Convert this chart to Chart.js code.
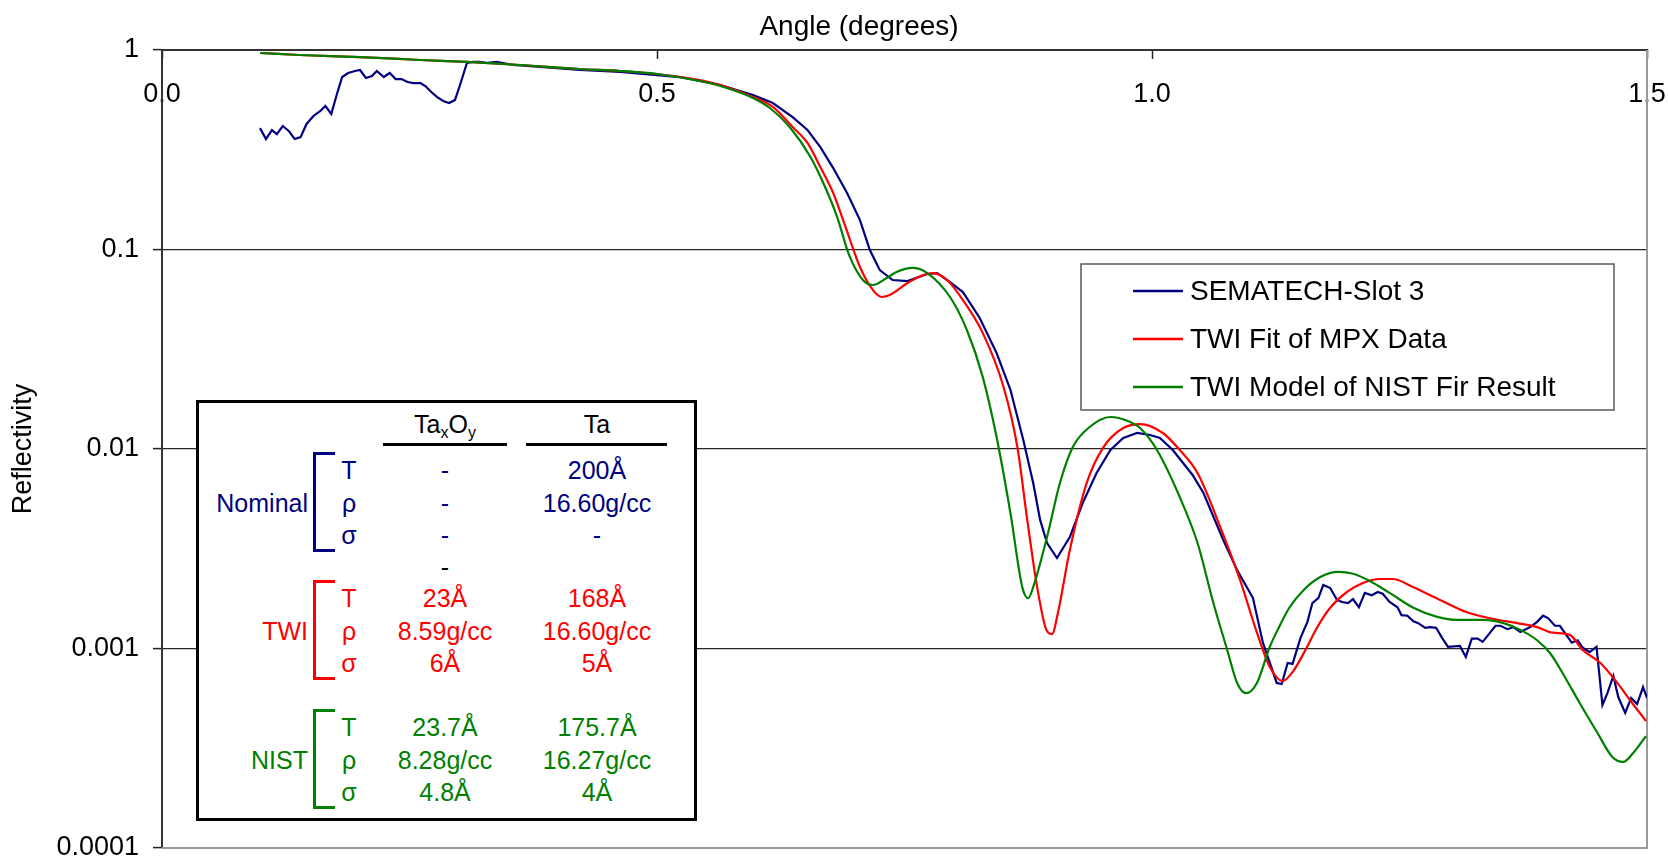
<!DOCTYPE html>
<html>
<head>
<meta charset="utf-8">
<script src="https://cdn.jsdelivr.net/npm/chart.js@4.4.1/dist/chart.umd.min.js"></script>
<style>
  html, body { margin: 0; padding: 0; background: #fff; }
  #wrap { position: relative; width: 1668px; height: 859px; overflow: hidden;
          font-family: 'Liberation Sans', Arial, Helvetica, sans-serif; }
  #chart { position: absolute; left: 0; top: 0; }
  .box { position: absolute; left: 196px; top: 400px; width: 501px; height: 421px;
         box-sizing: border-box; border: 3px solid #000; background: #fff; }
  .t { position: absolute; white-space: nowrap; line-height: 1; font-size: 25px;
       transform: translate(-50%, -50%); }
  .t.r { transform: translate(-100%, -50%); }
  .sb { font-size: 16px; position: relative; top: 5px; }
  .rule { position: absolute; height: 3px; background: #000; }
  .brk { position: absolute; box-sizing: border-box; border: 3px solid; border-right: none; width: 22px; }
</style>
</head>
<body>
<div id="wrap">
  <canvas id="chart" width="1668" height="859"></canvas>
  <div class="box"></div>
</div>
<script>
// Axis ticks and titles
const xTicks = [0, 0.5, 1.0, 1.5];
const xTickLabels = ['0.0', '0.5', '1.0', '1.5'];
const yTicks = [1, 0.1, 0.01, 0.001, 0.0001];
const yTickLabels = ['1', '0.1', '0.01', '0.001', '0.0001'];
const xTitle = 'Angle (degrees)';
const yTitle = 'Reflectivity';

const seriesNames = ['SEMATECH-Slot 3', 'TWI Fit of MPX Data', 'TWI Model of NIST Fir Result'];
const seriesColors = ['#000080', '#ff0000', '#008000'];

// Measured reflectivity (SEMATECH slot 3)
const blueAngle = [0.099,0.105,0.111,0.116,0.122,0.128,0.134,0.140,0.146,0.153,
  0.160,0.165,0.171,0.177,0.182,0.188,0.195,0.200,0.206,0.212,
  0.217,0.224,0.230,0.236,0.242,0.248,0.254,0.261,0.266,0.272,
  0.278,0.284,0.290,0.296,0.302,0.308,0.314,0.321,0.329,0.338,
  0.355,0.382,0.422,0.463,0.500,0.523,0.564,0.597,0.617,0.637,
  0.652,0.665,0.678,0.692,0.705,0.715,0.725,0.738,0.753,0.773,
  0.783,0.796,0.809,0.826,0.843,0.857,0.870,0.880,0.887,0.894,
  0.904,0.917,0.930,0.944,0.958,0.971,0.985,0.998,1.008,1.021,
  1.041,1.052,1.072,1.086,1.102,1.112,1.126,1.131,1.137,1.142,
  1.150,1.157,1.162,1.168,1.173,1.180,1.187,1.192,1.198,1.203,
  1.209,1.215,1.222,1.228,1.233,1.240,1.248,1.252,1.258,1.264,
  1.269,1.276,1.281,1.287,1.293,1.299,1.311,1.317,1.323,1.329,
  1.334,1.347,1.352,1.359,1.365,1.372,1.382,1.389,1.395,1.400,
  1.407,1.412,1.424,1.430,1.435,1.442,1.449,1.455,1.460,1.466,
  1.471,1.478,1.484,1.490,1.496,1.500];
const blueR = [0.406,0.358,0.397,0.379,0.416,0.393,0.358,0.366,0.426,0.467,
  0.495,0.524,0.478,0.609,0.732,0.767,0.785,0.794,0.724,0.741,
  0.785,0.732,0.767,0.715,0.715,0.691,0.683,0.683,0.660,0.616,
  0.581,0.555,0.542,0.562,0.691,0.861,0.871,0.871,0.861,0.871,
  0.841,0.822,0.794,0.776,0.749,0.732,0.668,0.595,0.542,0.461,
  0.397,0.326,0.256,0.192,0.1405,0.0994,0.0789,0.0703,0.0695,0.0754,
  0.0762,0.0687,0.0612,0.0454,0.0303,0.0198,0.0111,0.00675,0.00441,0.00338,
  0.00284,0.00362,0.00536,0.00758,0.00989,0.01135,0.01203,0.01175,0.01135,0.00989,
  0.00741,0.00602,0.00350,0.00247,0.00179,0.00107,0.000672,0.000664,0.000846,0.000837,
  0.00113,0.00136,0.00169,0.00179,0.00208,0.00201,0.00175,0.00171,0.00169,0.00177,
  0.00161,0.00190,0.00185,0.00192,0.00188,0.00171,0.00161,0.00147,0.00146,0.00137,
  0.00134,0.00127,0.00128,0.00127,0.00113,0.00102,0.00103,0.000907,0.00112,0.00112,
  0.00108,0.00130,0.00130,0.00125,0.00128,0.00121,0.00128,0.00136,0.00146,0.00142,
  0.00130,0.00130,0.00107,0.00110,0.00101,0.000960,0.00102,0.000521,0.000598,0.000728,
  0.000571,0.000475,0.000565,0.000527,0.000641,0.000565];

// TWI fit of the MPX data
const redAngle = [0.099,0.139,0.200,0.261,0.308,0.362,0.422,0.463,0.500,0.543,
  0.564,0.597,0.617,0.637,0.652,0.665,0.678,0.688,0.695,0.705,
  0.718,0.727,0.735,0.753,0.769,0.779,0.793,0.809,0.829,0.850,
  0.864,0.874,0.884,0.893,0.899,0.905,0.917,0.934,0.951,0.971,
  0.988,1.011,1.028,1.046,1.069,1.089,1.106,1.119,1.132,1.142,
  1.155,1.167,1.180,1.197,1.213,1.230,1.243,1.264,1.291,1.318,
  1.344,1.369,1.389,1.405,1.422,1.435,1.453,1.470,1.485,1.499];
const redR = [0.966,0.944,0.922,0.891,0.871,0.841,0.803,0.785,0.758,0.707,
  0.668,0.581,0.518,0.411,0.342,0.259,0.192,0.1405,0.1116,0.0817,
  0.0627,0.0578,0.0591,0.0679,0.0745,0.0762,0.0703,0.0558,0.0382,0.0205,
  0.01023,0.00441,0.00203,0.00125,0.00118,0.00151,0.00312,0.00675,0.01023,0.01274,
  0.01334,0.01203,0.00989,0.00758,0.00406,0.00220,0.00120,0.000808,0.000687,0.000762,
  0.000983,0.00128,0.00160,0.00192,0.00213,0.00223,0.00223,0.00203,0.00175,0.00152,
  0.00141,0.00134,0.00128,0.00120,0.00117,0.000983,0.000846,0.000672,0.000533,0.000433];

// TWI model of the NIST fit result
const greenAngle = [0.099,0.139,0.200,0.261,0.308,0.362,0.422,0.463,0.500,0.543,
  0.564,0.597,0.614,0.634,0.655,0.668,0.682,0.694,0.708,0.718,
  0.732,0.742,0.758,0.773,0.796,0.813,0.829,0.843,0.857,0.869,
  0.875,0.880,0.894,0.907,0.920,0.937,0.958,0.978,0.988,1.005,
  1.028,1.046,1.062,1.076,1.086,1.095,1.106,1.119,1.128,1.139,
  1.153,1.170,1.188,1.203,1.220,1.240,1.264,1.288,1.308,1.334,
  1.355,1.372,1.389,1.402,1.417,1.432,1.450,1.465,1.476,1.486,1.499];
const greenR = [0.966,0.944,0.922,0.891,0.871,0.841,0.803,0.785,0.758,0.699,
  0.660,0.575,0.512,0.411,0.291,0.2154,0.1455,0.0939,0.0703,0.0664,
  0.0720,0.0771,0.0808,0.0762,0.0578,0.0395,0.0230,0.01149,0.00478,0.00203,
  0.00179,0.00203,0.00362,0.00675,0.01023,0.01289,0.01447,0.01366,0.01274,0.00989,
  0.00575,0.00338,0.00169,0.000983,0.000672,0.000598,0.000672,0.00102,0.00127,0.00161,
  0.00196,0.00228,0.00242,0.00237,0.00218,0.00190,0.00160,0.00144,0.00139,0.00139,
  0.00134,0.00124,0.00110,0.000949,0.000720,0.000533,0.000377,0.000286,0.000270,0.000299,0.000364];

// Layer parameters shown in the inset table
const tableHead = ['Ta<span class="sb">x</span>O<span class="sb">y</span>', 'Ta'];
const tableGroups = [
  { name: 'Nominal', color: '#000080', rows: [['T', '-', '200Å'], ['ρ', '-', '16.60g/cc'], ['σ', '-', '-']] },
  { name: 'TWI',     color: '#ff0000', rows: [['T', '23Å', '168Å'], ['ρ', '8.59g/cc', '16.60g/cc'], ['σ', '6Å', '5Å']] },
  { name: 'NIST',    color: '#008000', rows: [['T', '23.7Å', '175.7Å'], ['ρ', '8.28g/cc', '16.27g/cc'], ['σ', '4.8Å', '4Å']] }
];

const FONT = "'Liberation Sans', Arial, Helvetica, sans-serif";
Chart.defaults.font.family = FONT;
Chart.defaults.color = '#000';

const pts = (a, r) => a.map((x, i) => ({ x: x, y: r[i] }));

// Plot frame, top axis title and the boxed legend
const decor = {
  id: 'decor',
  beforeDatasetsDraw(chart) {
    const { ctx, chartArea: a } = chart;
    ctx.save();
    ctx.strokeStyle = '#9a9a9a';
    ctx.lineWidth = 2;
    ctx.beginPath();
    ctx.moveTo(a.right, a.top);
    ctx.lineTo(a.right, a.bottom);
    ctx.lineTo(a.left, a.bottom);
    ctx.stroke();
    ctx.restore();
  },
  afterDatasetsDraw(chart) {
    const { ctx } = chart;
    ctx.save();
    ctx.font = '28px ' + FONT;
    ctx.fillStyle = '#000';
    ctx.textAlign = 'center';
    ctx.textBaseline = 'alphabetic';
    ctx.fillText(xTitle, 859, 35);

    const L = { x: 1081, y: 264, w: 533, h: 146 };
    ctx.fillStyle = '#fff';
    ctx.fillRect(L.x, L.y, L.w, L.h);
    ctx.strokeStyle = '#5a5a5a';
    ctx.lineWidth = 1.5;
    ctx.strokeRect(L.x, L.y, L.w, L.h);
    chart.data.datasets.forEach((ds, i) => {
      const yy = L.y + 27 + i * 48;
      ctx.strokeStyle = ds.borderColor;
      ctx.lineWidth = 2.5;
      ctx.beginPath();
      ctx.moveTo(L.x + 52, yy);
      ctx.lineTo(L.x + 102, yy);
      ctx.stroke();
      ctx.fillStyle = '#000';
      ctx.textAlign = 'left';
      ctx.textBaseline = 'middle';
      ctx.fillText(ds.label, L.x + 109, yy + 1);
    });
    ctx.restore();
  }
};

new Chart(document.getElementById('chart'), {
  type: 'line',
  data: {
    datasets: [
      { label: seriesNames[0], data: pts(blueAngle, blueR), borderColor: seriesColors[0],
        borderWidth: 2.2, pointRadius: 0, tension: 0, fill: false, order: 2 },
      { label: seriesNames[1], data: pts(redAngle, redR), borderColor: seriesColors[1],
        borderWidth: 2.2, pointRadius: 0, cubicInterpolationMode: 'monotone', fill: false, order: 1 },
      { label: seriesNames[2], data: pts(greenAngle, greenR), borderColor: seriesColors[2],
        borderWidth: 2.2, pointRadius: 0, cubicInterpolationMode: 'monotone', fill: false, order: 0 }
    ]
  },
  options: {
    responsive: false,
    devicePixelRatio: 1,
    animation: false,
    events: [],
    layout: { padding: { left: 0, top: 0, right: 21, bottom: 11 } },
    plugins: { legend: { display: false }, tooltip: { enabled: false } },
    scales: {
      x: {
        type: 'linear', position: 'top', min: 0, max: 1.5,
        afterFit(s) { s.height = 50; s.paddingLeft = 0; s.paddingRight = 0; },
        afterBuildTicks(s) { s.ticks = xTicks.map(v => ({ value: v })); },
        ticks: {
          callback: v => xTickLabels[xTicks.indexOf(v)],
          font: { size: 27 }, color: '#000', padding: 28, mirror: true,
          maxRotation: 0, minRotation: 0, autoSkip: false
        },
        grid: { drawOnChartArea: false, drawTicks: true, tickLength: -9, tickColor: '#222', tickWidth: 1.5 },
        border: { color: '#333', width: 2 }
      },
      y: {
        type: 'logarithmic', min: 0.0001, max: 1,
        afterFit(s) { s.width = 162; s.paddingTop = 0; s.paddingBottom = 0; },
        afterBuildTicks(s) { s.ticks = yTicks.map(v => ({ value: v })); },
        ticks: {
          callback: v => yTickLabels[yTicks.indexOf(v)],
          font: { size: 27 }, color: '#000', padding: 14, autoSkip: false
        },
        grid: {
          color: c => (c.tick && c.tick.value === 0.0001) ? 'rgba(0,0,0,0)' : '#262626',
          lineWidth: 1.2, tickLength: 9, tickColor: '#222', tickWidth: 1.5
        },
        border: { color: '#333', width: 2 },
        title: { display: true, text: yTitle, font: { size: 27 }, color: '#000', padding: { top: 7, bottom: 0 } }
      }
    }
  },
  plugins: [decor]
});

// Inset table of layer parameters
const wrap = document.getElementById('wrap');
function put(html, x, y, color, right) {
  const d = document.createElement('div');
  d.className = 't' + (right ? ' r' : '');
  d.style.left = x + 'px';
  d.style.top = y + 'px';
  d.style.color = color;
  d.innerHTML = html;
  wrap.appendChild(d);
}
function rule(x, y, w) {
  const d = document.createElement('div');
  d.className = 'rule';
  d.style.left = x + 'px'; d.style.top = y + 'px'; d.style.width = w + 'px';
  wrap.appendChild(d);
}
const colX = [349, 445, 597];
put(tableHead[0], colX[1], 424, '#000');
put(tableHead[1], colX[2], 424, '#000');
rule(383, 443, 124);
rule(526, 443, 141);

const groupTop = [470, 598, 727];
const rowStep = 32.5;
tableGroups.forEach((g, gi) => {
  const y0 = groupTop[gi];
  g.rows.forEach((row, ri) => {
    row.forEach((cell, ci) => put(cell, colX[ci], y0 + ri * rowStep, g.color));
  });
  put(g.name, 308, y0 + rowStep, g.color, true);
  const b = document.createElement('div');
  b.className = 'brk';
  b.style.left = '313px';
  b.style.top = (y0 - 18) + 'px';
  b.style.height = (2 * rowStep + 35) + 'px';
  b.style.borderColor = g.color;
  wrap.appendChild(b);
});
put('-', colX[1], 567, '#000');
</script>
</body>
</html>
